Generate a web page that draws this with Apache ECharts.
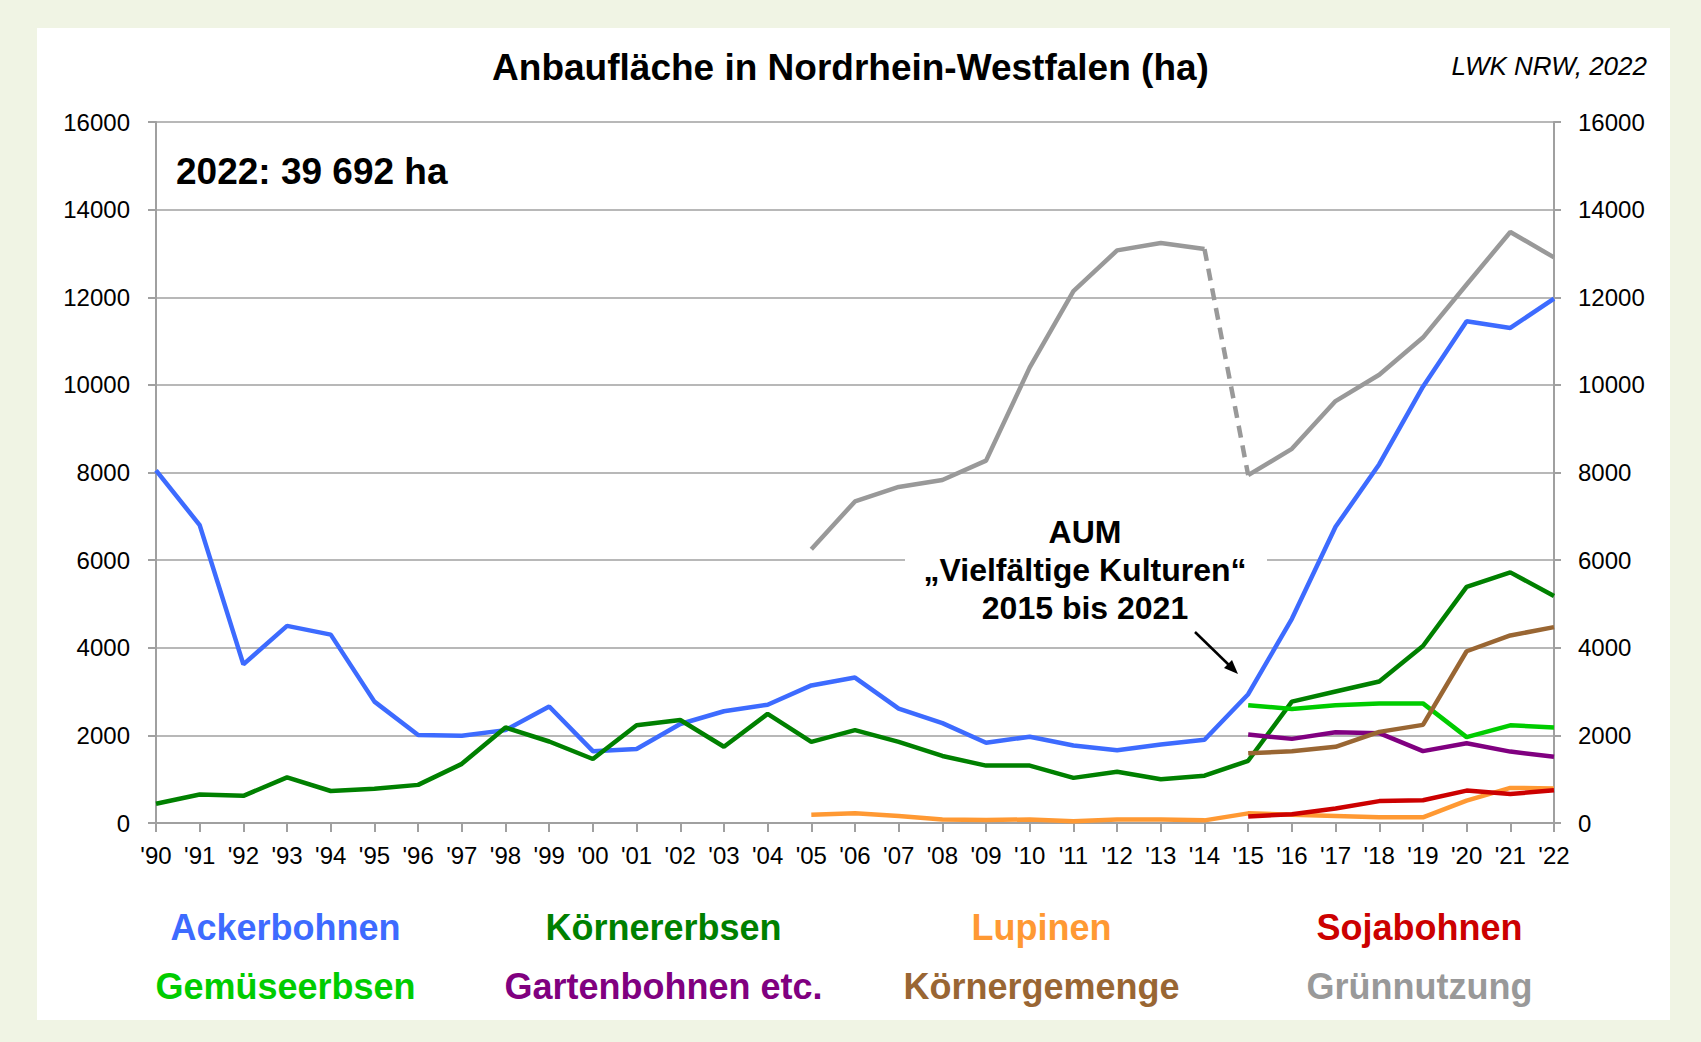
<!DOCTYPE html>
<html>
<head>
<meta charset="utf-8">
<title>Anbaufläche in Nordrhein-Westfalen</title>
<script src="https://cdn.jsdelivr.net/npm/echarts@6/dist/echarts.min.js"></script>
<style>
html, body { margin: 0; padding: 0; background: #F0F4E4; }
#main { width: 1701px; height: 1042px; }
</style>
</head>
<body>
<div id="main"></div>
<script>
// Jahre (x-Achse)
var years = ["'90", "'91", "'92", "'93", "'94", "'95", "'96", "'97", "'98", "'99",
	"'00", "'01", "'02", "'03", "'04", "'05", "'06", "'07", "'08", "'09",
	"'10", "'11", "'12", "'13", "'14", "'15", "'16", "'17", "'18", "'19",
	"'20", "'21", "'22"];

// Anbauflächen in ha, null = keine Angabe
var ackerbohnen = [8050, 6800, 3620, 4500, 4300, 2770, 2010, 1990, 2120, 2660,
	1640, 1690, 2260, 2550, 2700, 3140, 3320, 2610, 2280, 1830,
	1970, 1770, 1660, 1790, 1900, 2940, 4660, 6760, 8190, 9960,
	11450, 11300, 11970];
var koernererbsen = [440, 650, 620, 1040, 730, 780, 870, 1350, 2180, 1860,
	1460, 2230, 2350, 1740, 2490, 1850, 2120, 1850, 1530, 1310,
	1310, 1030, 1170, 1000, 1080, 1420, 2770, 3000, 3230, 4040,
	5390, 5720, 5180];
var lupinen = [null, null, null, null, null, null, null, null, null, null,
	null, null, null, null, null, 190, 220, 160, 80, 70,
	80, 40, 80, 80, 60, 220, 190, 160, 130, 130,
	510, 800, 790];
var sojabohnen = [null, null, null, null, null, null, null, null, null, null,
	null, null, null, null, null, null, null, null, null, null,
	null, null, null, null, null, 150, 200, 330, 500, 520,
	740, 660, 750];
var gemueseerbsen = [null, null, null, null, null, null, null, null, null, null,
	null, null, null, null, null, null, null, null, null, null,
	null, null, null, null, null, 2690, 2600, 2690, 2730, 2730,
	1960, 2230, 2180];
var gartenbohnen = [null, null, null, null, null, null, null, null, null, null,
	null, null, null, null, null, null, null, null, null, null,
	null, null, null, null, null, 2020, 1920, 2070, 2050, 1640,
	1820, 1630, 1510];
var koernergemenge = [null, null, null, null, null, null, null, null, null, null,
	null, null, null, null, null, null, null, null, null, null,
	null, null, null, null, null, 1590, 1640, 1740, 2080, 2240,
	3920, 4280, 4470];
var gruennutzung = [null, null, null, null, null, null, null, null, null, null,
	null, null, null, null, null, 6250, 7340, 7670, 7830, 8270,
	10400, 12140, 13070, 13240, 13100, 7940, 8540, 9630, 10230, 11080,
	12290, 13490, 12910];

var fontFam = 'Arial';
var names = ['Ackerbohnen', 'Körnererbsen', 'Lupinen', 'Sojabohnen',
	'Gemüseerbsen', 'Gartenbohnen etc.', 'Körnergemenge', 'Grünnutzung'];
var colors = ['#3D6BFF', '#008000', '#FF9933', '#CC0000',
	'#00CC00', '#800080', '#996633', '#999999'];

// Grünnutzung: Bruch 2014 -> 2015 wird gestrichelt gezeichnet
var breakIdx = years.indexOf("'15");
var gruenVor = gruennutzung.map(function (v, i) { return i < breakIdx ? v : null; });
var gruenNach = gruennutzung.map(function (v, i) { return i >= breakIdx ? v : null; });
var gruenBruch = gruennutzung.map(function (v, i) { return (i === breakIdx - 1 || i === breakIdx) ? v : null; });

var chart = echarts.init(document.getElementById('main'), null, { renderer: 'svg' });

function lineSeries(name, data, color, dashed) {
	return {
		name: name,
		type: 'line',
		data: data,
		showSymbol: false,
		symbol: 'none',
		connectNulls: false,
		animation: false,
		lineStyle: { color: color, width: 4.5, type: dashed ? [12, 8] : 'solid' },
		itemStyle: { color: color }
	};
}

// Legende als Text, zentriert in festen Spalten
var rich = {};
for (var i = 0; i < names.length; i++) {
	rich['c' + i] = {
		color: colors[i], fontSize: 36, fontWeight: 'bold', fontFamily: fontFam,
		width: 373, align: 'center', lineHeight: 40
	};
}
function legendRow(items, top) {
	return {
		data: items,
		left: 94,
		top: top,
		orient: 'horizontal',
		icon: 'rect',
		itemWidth: 0,
		itemHeight: 0,
		itemGap: 0,
		padding: 0,
		selectedMode: false,
		formatter: function (n) { return '{c' + names.indexOf(n) + '|' + n + '}'; },
		textStyle: { rich: rich }
	};
}

var axisLabelStyle = { color: '#000', fontSize: 24, fontFamily: fontFam, formatter: function (v) { return String(v); } };
var greyLine = { color: '#A0A0A0', width: 2 };

chart.setOption({
	backgroundColor: '#F0F4E4',
	animation: false,
	title: [{
		text: 'Anbaufläche in Nordrhein-Westfalen (ha)',
		left: 'center',
		top: 47,
		padding: 0,
		textStyle: { fontSize: 37, fontWeight: 'bold', fontFamily: fontFam, color: '#000', lineHeight: 40 }
	}, {
		text: 'LWK NRW, 2022',
		right: 54,
		top: 51,
		padding: 0,
		textStyle: { fontSize: 26, fontStyle: 'italic', fontWeight: 'normal', fontFamily: fontFam, color: '#000', lineHeight: 30 }
	}, {
		text: '2022: 39 692 ha',
		left: 176,
		top: 149,
		padding: 0,
		textStyle: { fontSize: 37, fontWeight: 'bold', fontFamily: fontFam, color: '#000', lineHeight: 44 }
	}],
	legend: [
		legendRow(names.slice(0, 4), 909),
		legendRow(names.slice(4, 8), 968)
	],
	grid: { left: 156, right: 147, top: 122, bottom: 219, containLabel: false },
	xAxis: {
		type: 'category',
		data: years,
		boundaryGap: false,
		axisLine: { lineStyle: greyLine },
		axisTick: { show: true, length: 9, lineStyle: greyLine, interval: 0 },
		axisLabel: Object.assign({}, axisLabelStyle, { interval: 0, margin: 20 }),
		splitLine: { show: false }
	},
	yAxis: [{
		type: 'value',
		position: 'left',
		min: 0, max: 16000, interval: 2000,
		axisLine: { show: true, lineStyle: greyLine },
		axisTick: { show: true, length: 8, lineStyle: greyLine },
		axisLabel: Object.assign({}, axisLabelStyle, { margin: 26 }),
		splitLine: { show: true, lineStyle: { color: '#A0A0A0', width: 1.5 } }
	}, {
		type: 'value',
		position: 'right',
		min: 0, max: 16000, interval: 2000,
		axisLine: { show: true, lineStyle: greyLine },
		axisTick: { show: true, length: 7, lineStyle: greyLine },
		axisLabel: Object.assign({}, axisLabelStyle, { margin: 24 }),
		splitLine: { show: false }
	}],
	graphic: [{
		type: 'rect',
		z: -10,
		shape: { x: 37, y: 28, width: 1633, height: 992 },
		style: { fill: '#FFFFFF' },
		silent: true
	}, {
		type: 'rect',
		z: 5,
		shape: { x: 905, y: 540, width: 362, height: 40 },
		style: { fill: '#FFFFFF' },
		silent: true
	}, {
		type: 'text',
		z: 6,
		x: 1085,
		y: 513,
		style: {
			text: 'AUM\n„Vielfältige Kulturen“\n2015 bis 2021',
			fill: '#000',
			font: 'bold 32px ' + fontFam,
			lineHeight: 38,
			align: 'center',
			verticalAlign: 'top'
		}
	}, {
		type: 'line',
		z: 6,
		shape: { x1: 1195, y1: 632, x2: 1231, y2: 667 },
		style: { stroke: '#000', lineWidth: 2.5 }
	}, {
		type: 'polygon',
		z: 6,
		shape: { points: [[1238, 674], [1224, 668], [1232, 660]] },
		style: { fill: '#000' }
	}],
	series: [
		lineSeries('Grünnutzung', gruenVor, colors[7], false),
		lineSeries('Grünnutzung', gruenBruch, colors[7], true),
		lineSeries('Grünnutzung', gruenNach, colors[7], false),
		lineSeries('Ackerbohnen', ackerbohnen, colors[0], false),
		lineSeries('Körnererbsen', koernererbsen, colors[1], false),
		lineSeries('Lupinen', lupinen, colors[2], false),
		lineSeries('Sojabohnen', sojabohnen, colors[3], false),
		lineSeries('Gemüseerbsen', gemueseerbsen, colors[4], false),
		lineSeries('Gartenbohnen etc.', gartenbohnen, colors[5], false),
		lineSeries('Körnergemenge', koernergemenge, colors[6], false)
	]
});
</script>
</body>
</html>
